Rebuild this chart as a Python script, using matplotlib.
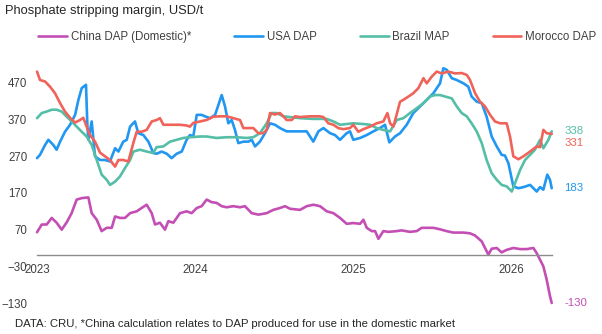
import matplotlib
matplotlib.use('Agg')
import matplotlib.pyplot as plt

plt.rcParams['font.family'] = ['Liberation Sans', 'DejaVu Sans']

# time in decimal years, values in USD/t
china = [
    (2023.000, 63), (2023.030, 84), (2023.061, 84), (2023.093, 102), (2023.124, 89),
    (2023.156, 70), (2023.188, 90), (2023.219, 115), (2023.251, 152), (2023.283, 156),
    (2023.325, 158), (2023.346, 115), (2023.378, 97), (2023.409, 66), (2023.441, 75),
    (2023.473, 75), (2023.494, 106), (2023.525, 102), (2023.557, 102), (2023.589, 115),
    (2023.631, 120), (2023.662, 129), (2023.694, 138), (2023.726, 115), (2023.747, 84),
    (2023.778, 89), (2023.810, 70), (2023.831, 93), (2023.863, 89), (2023.905, 115),
    (2023.947, 120), (2023.979, 115), (2024.011, 129), (2024.042, 134), (2024.074, 152),
    (2024.105, 145), (2024.137, 143), (2024.169, 134), (2024.200, 131), (2024.243, 134),
    (2024.285, 131), (2024.316, 134), (2024.359, 115), (2024.401, 111), (2024.454, 115),
    (2024.496, 124), (2024.538, 129), (2024.570, 134), (2024.601, 127), (2024.665, 124),
    (2024.707, 134), (2024.749, 138), (2024.791, 134), (2024.834, 120), (2024.876, 115),
    (2024.918, 102), (2024.960, 86), (2025.002, 88), (2025.045, 86), (2025.066, 97),
    (2025.087, 75), (2025.119, 66), (2025.140, 66), (2025.161, 45), (2025.192, 66),
    (2025.224, 64), (2025.277, 66), (2025.308, 68), (2025.361, 64), (2025.403, 66),
    (2025.435, 75), (2025.477, 75), (2025.509, 75), (2025.551, 71), (2025.593, 66),
    (2025.635, 62), (2025.699, 62), (2025.741, 60), (2025.773, 54), (2025.815, 38),
    (2025.836, 20), (2025.857, 2), (2025.878, 18), (2025.910, 20), (2025.941, 8),
    (2025.973, 15), (2026.015, 20), (2026.058, 17), (2026.100, 17), (2026.142, 20),
    (2026.163, 6), (2026.184, -12), (2026.205, -30), (2026.226, -66), (2026.247, -111),
    (2026.258, -130),
]

usa = [
    (2023.000, 265), (2023.019, 274), (2023.051, 301), (2023.072, 315), (2023.103, 301),
    (2023.124, 288), (2023.146, 310), (2023.177, 337), (2023.209, 356), (2023.241, 383),
    (2023.262, 424), (2023.283, 456), (2023.310, 465), (2023.319, 351), (2023.325, 315),
    (2023.346, 365), (2023.367, 270), (2023.399, 260), (2023.430, 260), (2023.462, 256),
    (2023.494, 292), (2023.515, 283), (2023.546, 310), (2023.568, 315), (2023.589, 351),
    (2023.620, 365), (2023.641, 333), (2023.673, 328), (2023.705, 310), (2023.736, 279),
    (2023.757, 277), (2023.789, 283), (2023.821, 277), (2023.852, 265), (2023.884, 277),
    (2023.916, 283), (2023.947, 315), (2023.968, 328), (2023.989, 324), (2024.011, 383),
    (2024.042, 383), (2024.063, 379), (2024.095, 374), (2024.127, 383), (2024.148, 410),
    (2024.169, 437), (2024.190, 406), (2024.211, 360), (2024.232, 369), (2024.253, 342),
    (2024.274, 306), (2024.306, 310), (2024.338, 310), (2024.359, 315), (2024.380, 297),
    (2024.411, 310), (2024.443, 333), (2024.475, 360), (2024.506, 356), (2024.538, 347),
    (2024.580, 338), (2024.622, 338), (2024.665, 338), (2024.707, 338), (2024.749, 310),
    (2024.781, 338), (2024.813, 347), (2024.855, 333), (2024.886, 328), (2024.918, 315),
    (2024.960, 333), (2024.981, 338), (2025.002, 315), (2025.045, 320), (2025.087, 328),
    (2025.129, 338), (2025.171, 347), (2025.203, 356), (2025.230, 308), (2025.266, 324),
    (2025.298, 333), (2025.340, 356), (2025.382, 388), (2025.425, 406), (2025.467, 424),
    (2025.509, 442), (2025.551, 469), (2025.572, 510), (2025.593, 506), (2025.625, 483),
    (2025.657, 478), (2025.699, 469), (2025.730, 460), (2025.751, 433), (2025.783, 419),
    (2025.815, 415), (2025.846, 378), (2025.878, 324), (2025.910, 297), (2025.941, 274),
    (2025.962, 272), (2025.984, 251), (2026.015, 188), (2026.047, 183), (2026.079, 186),
    (2026.121, 192), (2026.142, 183), (2026.163, 174), (2026.184, 186), (2026.205, 179),
    (2026.230, 220), (2026.247, 206), (2026.258, 183),
]

brazil = [
    (2023.000, 374), (2023.030, 388), (2023.061, 392), (2023.093, 397), (2023.124, 397),
    (2023.156, 392), (2023.188, 378), (2023.219, 365), (2023.251, 351), (2023.283, 337),
    (2023.314, 324), (2023.346, 301), (2023.378, 260), (2023.409, 220), (2023.441, 206),
    (2023.462, 192), (2023.494, 201), (2023.525, 215), (2023.557, 238), (2023.589, 260),
    (2023.610, 283), (2023.652, 288), (2023.694, 283), (2023.736, 279), (2023.757, 295),
    (2023.800, 297), (2023.842, 310), (2023.884, 315), (2023.926, 320), (2023.968, 322),
    (2024.032, 324), (2024.074, 324), (2024.137, 320), (2024.200, 322), (2024.264, 322),
    (2024.327, 320), (2024.369, 322), (2024.411, 333), (2024.454, 360), (2024.485, 388),
    (2024.517, 388), (2024.559, 379), (2024.601, 377), (2024.665, 374), (2024.749, 372),
    (2024.834, 372), (2024.876, 365), (2024.918, 356), (2024.960, 358), (2025.002, 360),
    (2025.066, 358), (2025.108, 356), (2025.150, 347), (2025.192, 342), (2025.235, 338),
    (2025.277, 369), (2025.319, 374), (2025.361, 388), (2025.403, 401), (2025.446, 415),
    (2025.488, 433), (2025.519, 437), (2025.551, 437), (2025.583, 433), (2025.625, 428),
    (2025.657, 406), (2025.688, 388), (2025.720, 379), (2025.751, 360), (2025.783, 338),
    (2025.815, 306), (2025.846, 260), (2025.878, 224), (2025.910, 206), (2025.941, 192),
    (2025.973, 188), (2026.005, 174), (2026.026, 197), (2026.058, 233), (2026.089, 260),
    (2026.121, 274), (2026.152, 288), (2026.184, 315), (2026.205, 292), (2026.237, 315),
    (2026.258, 338),
]

morocco = [
    (2023.000, 501), (2023.019, 478), (2023.051, 474), (2023.082, 460), (2023.114, 442),
    (2023.146, 415), (2023.177, 392), (2023.209, 375), (2023.241, 362), (2023.272, 369),
    (2023.293, 375), (2023.314, 351), (2023.335, 328), (2023.367, 310), (2023.399, 280),
    (2023.430, 270), (2023.462, 260), (2023.494, 242), (2023.515, 260), (2023.546, 260),
    (2023.578, 256), (2023.610, 307), (2023.631, 337), (2023.662, 337), (2023.694, 342),
    (2023.726, 365), (2023.757, 369), (2023.778, 374), (2023.800, 356), (2023.842, 356),
    (2023.905, 356), (2023.947, 354), (2023.968, 351), (2023.989, 361), (2024.032, 365),
    (2024.074, 369), (2024.116, 378), (2024.158, 379), (2024.200, 379), (2024.243, 374),
    (2024.285, 369), (2024.306, 347), (2024.369, 347), (2024.401, 333), (2024.432, 333),
    (2024.454, 342), (2024.475, 388), (2024.506, 384), (2024.538, 388), (2024.559, 379),
    (2024.580, 369), (2024.612, 369), (2024.633, 379), (2024.665, 377), (2024.728, 379),
    (2024.791, 379), (2024.813, 377), (2024.844, 360), (2024.876, 356), (2024.907, 347),
    (2024.939, 344), (2024.981, 347), (2025.002, 356), (2025.034, 337), (2025.066, 344),
    (2025.108, 351), (2025.150, 360), (2025.192, 365), (2025.218, 388), (2025.235, 360),
    (2025.256, 351), (2025.298, 419), (2025.319, 424), (2025.351, 433), (2025.382, 442),
    (2025.414, 456), (2025.446, 483), (2025.467, 469), (2025.498, 487), (2025.530, 501),
    (2025.562, 496), (2025.604, 501), (2025.646, 496), (2025.688, 497), (2025.720, 492),
    (2025.741, 478), (2025.773, 442), (2025.804, 419), (2025.836, 406), (2025.868, 383),
    (2025.899, 365), (2025.931, 360), (2025.973, 360), (2025.994, 324), (2026.015, 270),
    (2026.047, 262), (2026.079, 270), (2026.121, 283), (2026.163, 297), (2026.184, 295),
    (2026.205, 342), (2026.226, 333), (2026.258, 331),
]

series_names = ['China DAP (Domestic)*', 'USA DAP', 'Brazil MAP', 'Morocco DAP']
series_colors = ['#C44FB4', '#2197F2', '#55BEA6', '#F0635A']
label_offsets = [0, 0, 0, -6.3]  # points, end label nudge
y_ticks = [470, 370, 270, 170, 70, -30, -130]
x_ticks = [2023, 2024, 2025, 2026]

fig = plt.figure(figsize=(6.02, 3.34), dpi=100)
ax = fig.add_axes([0.0615, 0.0928, 0.8555, 0.7247])

handles = []
for data, name, color, off in zip([china, usa, brazil, morocco], series_names,
                                  series_colors, label_offsets):
    t = [p[0] for p in data]
    v = [p[1] for p in data]
    line, = ax.plot(t, v, color=color, lw=1.9, solid_joinstyle='round',
                    solid_capstyle='round', clip_on=False, label=name)
    handles.append(line)
    ax.annotate(f'{v[-1]}', xy=(t[-1], v[-1]), xytext=(9, off),
                textcoords='offset points', va='center', ha='left',
                color=color, fontsize=8.2, annotation_clip=False)

ax.set_xlim(2023.0, 2026.26)
ax.set_ylim(-130, 530)

for side in ['top', 'right', 'left']:
    ax.spines[side].set_visible(False)
ax.spines['bottom'].set_position(('data', 0))
ax.spines['bottom'].set_color('#8c8c8c')
ax.spines['bottom'].set_linewidth(1.0)

ax.set_yticks(y_ticks)
ax.set_xticks(x_ticks)
ax.set_xticklabels([str(x) for x in x_ticks])
ax.tick_params(axis='y', length=0, pad=7, labelsize=8.3, labelcolor='#404040')
ax.tick_params(axis='x', length=0, pad=6, labelsize=8.3, labelcolor='#404040')
ax.set_zorder(1)

fig.text(5 / 602, 1 - 11 / 334, 'Phosphate stripping margin, USD/t',
         fontsize=9.3, color='#262626', va='center', ha='left')
fig.legend(handles=handles, labels=series_names, ncol=4, loc='center',
           bbox_to_anchor=(0.527, 1 - 37 / 334), frameon=False, fontsize=8.3,
           handlelength=2.5, handletextpad=0.3, columnspacing=3.75,
           labelcolor='#404040')
fig.text(15 / 602, 1 - 324 / 334,
         'DATA: CRU, *China calculation relates to DAP produced for use in the domestic market',
         fontsize=8.2, color='#262626', va='center', ha='left')

fig.savefig('out.png', dpi=100)
